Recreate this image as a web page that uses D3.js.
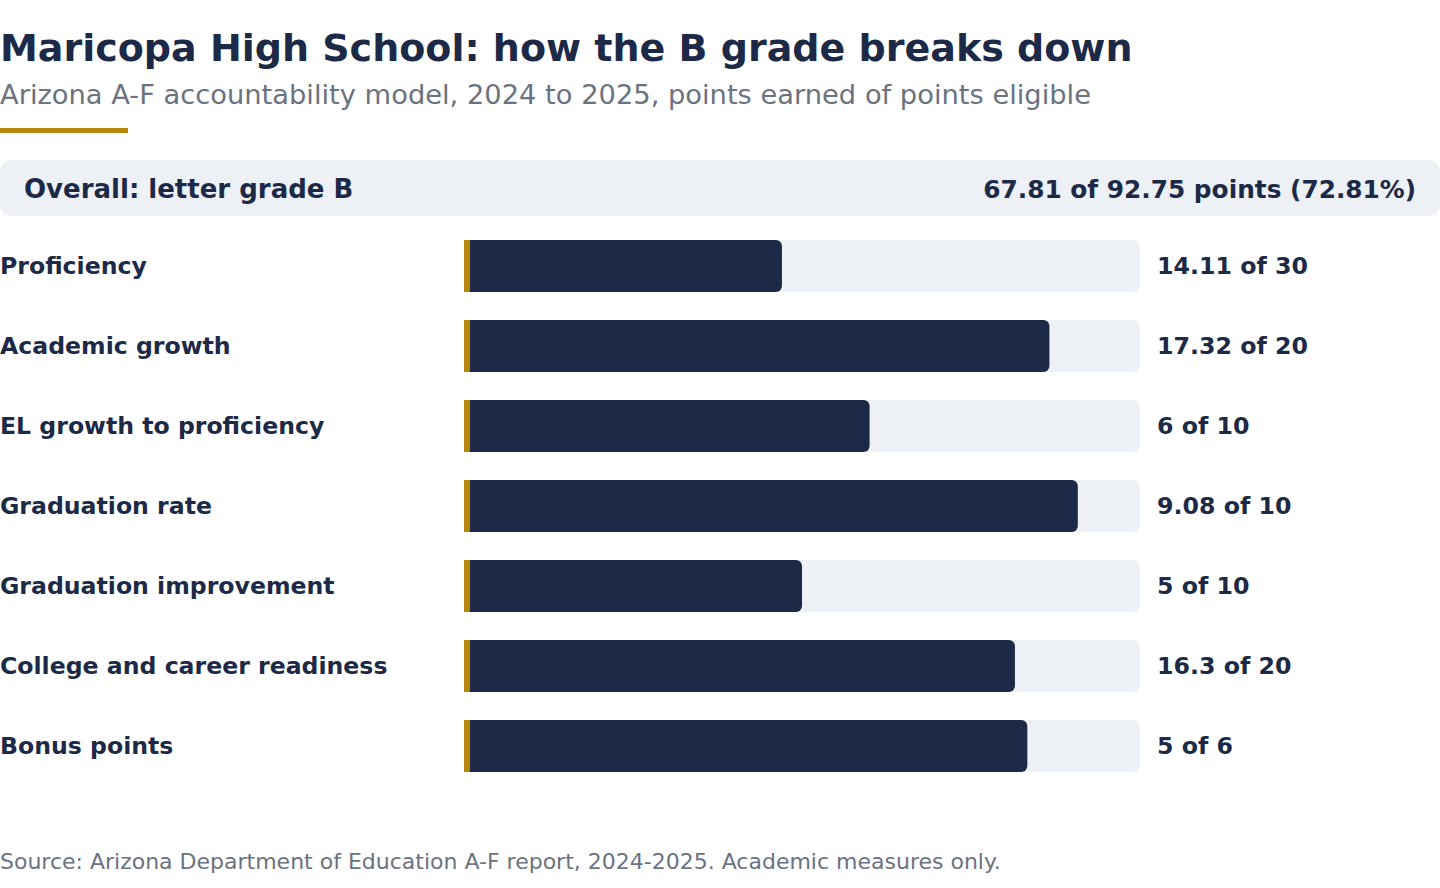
<!DOCTYPE html>
<html><head><meta charset="utf-8">
<script src="https://cdn.jsdelivr.net/npm/d3@7"></script>
<style>body{margin:0;background:#fff;} svg{display:block;font-family:"DejaVu Sans",sans-serif;}</style>
</head><body>
<script>
const categories = ["Proficiency","Academic growth","EL growth to proficiency","Graduation rate","Graduation improvement","College and career readiness","Bonus points"];
const earned = [14.11, 17.32, 6, 9.08, 5, 16.3, 5];
const eligible = [30, 20, 10, 10, 10, 20, 6];
const overallEarned = 67.81, overallEligible = 92.75, overallPct = 72.81, grade = "B";

const W = 1440, H = 888;
const navy = "#1c2a48", gold = "#b8860b", track = "#edf0f5", gray = "#6b7280";
const svg = d3.select("body").append("svg").attr("width", W).attr("height", H);

svg.append("text").attr("x",0).attr("y",61).attr("fill",navy).attr("font-size",38).attr("font-weight","bold")
  .text("Maricopa High School: how the B grade breaks down");
svg.append("text").attr("x",0).attr("y",104).attr("fill",gray).attr("font-size",27.3)
  .text("Arizona A-F accountability model, 2024 to 2025, points earned of points eligible");
svg.append("rect").attr("x",0).attr("y",128).attr("width",128).attr("height",5).attr("fill",gold);

svg.append("rect").attr("x",0).attr("y",160).attr("width",W).attr("height",56).attr("rx",10).attr("fill",track);
svg.append("text").attr("x",24).attr("y",198).attr("fill",navy).attr("font-size",26).attr("font-weight","bold")
  .text(`Overall: letter grade ${grade}`);
svg.append("text").attr("x",1416).attr("y",198).attr("text-anchor","end").attr("fill",navy).attr("font-size",24.8).attr("font-weight","bold")
  .text(`${overallEarned} of ${overallEligible} points (${overallPct}%)`);

const x = d3.scaleLinear().domain([0,1]).range([464,1140]);
const yb = d3.scaleBand().domain(categories).range([240, 240 + 80*7 - 28]).paddingInner(28/80);

const rows = svg.selectAll("g.row").data(categories.map((c,i)=>({c, e:earned[i], t:eligible[i]}))).join("g").attr("class","row");
rows.append("rect").attr("x",x(0)).attr("y",d=>yb(d.c)).attr("width",x(1)-x(0)).attr("height",yb.bandwidth()).attr("rx",8).attr("fill",track);
rows.append("rect").attr("x",x(0)).attr("y",d=>yb(d.c)).attr("width",d=>x(d.e/d.t)-x(0)).attr("height",yb.bandwidth()).attr("rx",6).attr("fill",navy);
rows.append("rect").attr("x",x(0)).attr("y",d=>yb(d.c)).attr("width",6).attr("height",yb.bandwidth()).attr("fill",gold);
rows.append("text").attr("x",0).attr("y",d=>yb(d.c)+yb.bandwidth()/2+7.5).attr("fill",navy).attr("font-size",23.6).attr("font-weight","bold").text(d=>d.c);
rows.append("text").attr("x",1157).attr("y",d=>yb(d.c)+yb.bandwidth()/2+7.5).attr("fill",navy).attr("font-size",23.7).attr("font-weight","bold").text(d=>`${d.e} of ${d.t}`);

svg.append("text").attr("x",0).attr("y",869).attr("fill",gray).attr("font-size",22)
  .text("Source: Arizona Department of Education A-F report, 2024-2025. Academic measures only.");
</script>
</body></html>
